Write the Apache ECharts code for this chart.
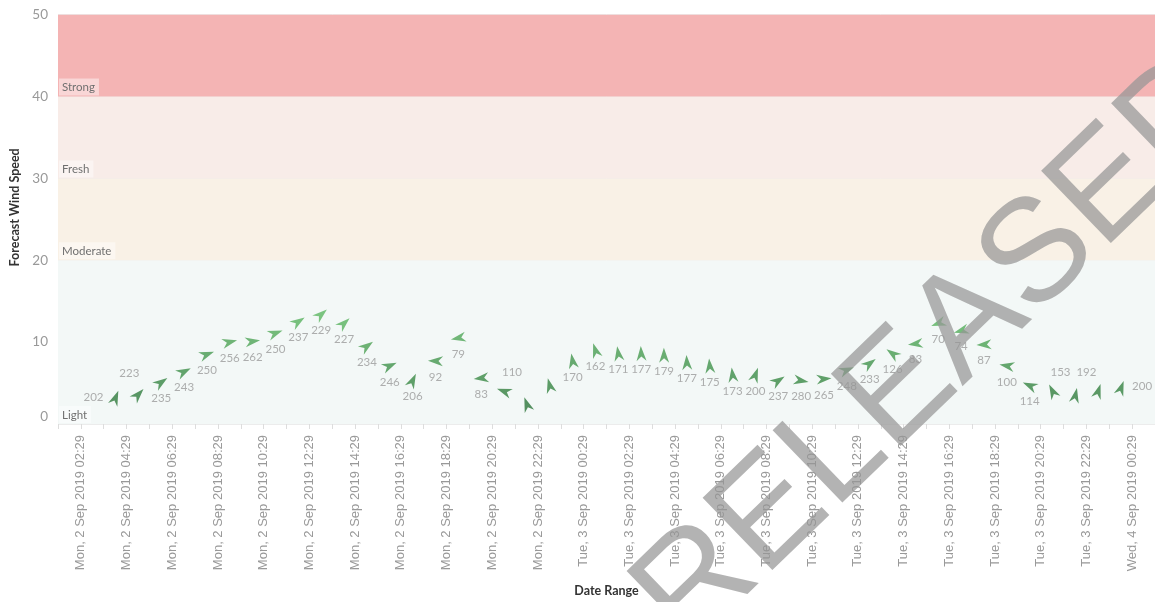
<!DOCTYPE html>
<html>
<head>
<meta charset="utf-8">
<script src="https://cdn.jsdelivr.net/npm/echarts@6/dist/echarts.min.js"></script>
<style>
  html, body { margin: 0; padding: 0; background: #fff; }
  #chart { width: 1155px; height: 602px; }
</style>
</head>
<body>
<div id="chart"></div>
<script>
// ---- data ----
var times = [
  '2019-09-02 04:00','2019-09-02 05:00','2019-09-02 06:00','2019-09-02 07:00','2019-09-02 08:00',
  '2019-09-02 09:00','2019-09-02 10:00','2019-09-02 11:00','2019-09-02 12:00','2019-09-02 13:00',
  '2019-09-02 14:00','2019-09-02 15:00','2019-09-02 16:00','2019-09-02 17:00','2019-09-02 18:00',
  '2019-09-02 19:00','2019-09-02 20:00','2019-09-02 21:00','2019-09-02 22:00','2019-09-02 23:00',
  '2019-09-03 00:00','2019-09-03 01:00','2019-09-03 02:00','2019-09-03 03:00','2019-09-03 04:00',
  '2019-09-03 05:00','2019-09-03 06:00','2019-09-03 07:00','2019-09-03 08:00','2019-09-03 09:00',
  '2019-09-03 10:00','2019-09-03 11:00','2019-09-03 12:00','2019-09-03 13:00','2019-09-03 14:00',
  '2019-09-03 15:00','2019-09-03 16:00','2019-09-03 17:00','2019-09-03 18:00','2019-09-03 19:00',
  '2019-09-03 20:00','2019-09-03 21:00','2019-09-03 22:00','2019-09-03 23:00','2019-09-04 00:00'
];
var windSpeed = [
  3.2, 3.6, 5.1, 6.4, 8.5, 10.0, 10.1, 11.1, 12.5, 13.4,
  12.3, 9.5, 7.1, 5.3, 7.7, 10.5, 5.6, 4.0, 2.4, 4.7,
  7.7, 9.0, 8.6, 8.6, 8.4, 7.5, 7.1, 6.0, 6.0, 5.3,
  5.3, 5.5, 6.6, 7.4, 8.6, 9.8, 12.3, 11.4, 9.7, 7.1,
  4.7, 4.0, 3.5, 4.0, 4.4
];
var windDirection = [
  202, 223, 235, 243, 250, 256, 262, 250, 237, 229,
  227, 234, 246, 206, 92, 79, 83, 110, 160, 165,
  170, 162, 171, 177, 179, 177, 175, 173, 200, 237,
  280, 265, 248, 233, 126, 83, 70, 74, 87, 100,
  114, 153, 192, 198, 200
];
var bandNames = ['Light', 'Moderate', 'Fresh', 'Strong'];
var bandLimits = [0, 20, 30, 40, 50];
var yTicks = [0, 10, 20, 30, 40, 50];

// ---- styling (not data) ----
var bandColors = ['#f3f8f7', '#f9f1e6', '#f8ece8', '#f4b4b4'];
var hiddenLabels = [18, 19, 43];
var labelOffsets = { 0: [-22, -1], 1: [-9, -21], 17: [8, -19], 41: [8, -19], 42: [11, -23], 44: [21, -2] };

// axis base: Mon 2 Sep 2019 02:29
var base = Date.UTC(2019, 8, 2, 2, 29);
function toHours(s) {
  var p = s.split(/[- :]/).map(Number);
  return (Date.UTC(p[0], p[1] - 1, p[2], p[3], p[4]) - base) / 3600000;
}
var dayNames = ['Sun', 'Mon', 'Tue', 'Wed', 'Thu', 'Fri', 'Sat'];
var monNames = ['Jan','Feb','Mar','Apr','May','Jun','Jul','Aug','Sep','Oct','Nov','Dec'];
function pad(n) { return (n < 10 ? '0' : '') + n; }
function fmtHour(v) {
  var d = new Date(base + v * 3600000);
  return dayNames[d.getUTCDay()] + ', ' + d.getUTCDate() + ' ' + monNames[d.getUTCMonth()] + ' ' +
    d.getUTCFullYear() + ' ' + pad(d.getUTCHours()) + ':' + pad(d.getUTCMinutes());
}

var points = times.map(function (t, i) {
  var item = { value: [toHours(t), windSpeed[i], windDirection[i]] };
  if (hiddenLabels.indexOf(i) >= 0) item.label = { show: false };
  else if (labelOffsets[i]) item.label = { offset: labelOffsets[i] };
  return item;
});

var bands = bandNames.map(function (n, i) {
  return [
    { name: n, yAxis: bandLimits[i], itemStyle: { color: bandColors[i] } },
    { yAxis: bandLimits[i + 1] }
  ];
});

var chart = echarts.init(document.getElementById('chart'));
chart.setOption({
  animation: false,
  backgroundColor: '#ffffff',
  grid: { left: 58, right: 0, top: 14.7, bottom: 176, containLabel: false },
  xAxis: {
    type: 'value',
    min: -1, max: 47, interval: 1,
    name: 'Date Range',
    nameLocation: 'middle',
    nameGap: 160,
    nameTextStyle: { color: '#333', fontSize: 12.5, fontWeight: 'bold', fontFamily: 'Lato, sans-serif' },
    splitLine: { show: false },
    axisLine: { show: false },
    axisTick: { show: true, length: 5, lineStyle: { color: '#dddddd' } },
    axisLabel: {
      rotate: 90,
      margin: 11,
      color: '#999',
      fontSize: 13,
      fontFamily: 'Liberation Sans, Arial, sans-serif',
      hideOverlap: false,
      formatter: function (v) { return (Math.round(v) % 2 === 0) ? fmtHour(v) : ''; }
    }
  },
  yAxis: {
    type: 'value',
    min: yTicks[0], max: yTicks[yTicks.length - 1], interval: 10,
    name: 'Forecast Wind Speed',
    nameLocation: 'middle',
    nameGap: 35,
    nameRotate: 90,
    nameTextStyle: { color: '#333', fontSize: 12.5, fontWeight: 'bold', fontFamily: 'Lato, sans-serif', padding: [0, 0, 0, 24] },
    axisLine: { show: false },
    axisTick: { show: false },
    splitLine: { show: true, lineStyle: { color: '#ececec', width: 1 } },
    axisLabel: {
      margin: 10,
      color: '#999',
      fontSize: 13.5,
      fontFamily: 'Lato, sans-serif',
      verticalAlignMinLabel: 'bottom'
    }
  },
  visualMap: {
    show: false,
    type: 'continuous',
    seriesIndex: 0,
    dimension: 1,
    min: 2, max: 13.5,
    inRange: { color: ['#2a7438', '#5cb862'] }
  },
  series: [
    {
      type: 'scatter',
      z: 3,
      data: points,
      symbol: 'path://M5,0 L10,15 L5,10.5 L0,15 Z',
      symbolSize: [10, 15],
      symbolRotate: function (v) { return 180 - v[2]; },
      label: {
        show: true,
        position: 'inside',
        offset: [0, 16],
        color: '#9a9a9a',
        fontSize: 11.5,
        fontFamily: 'Lato, sans-serif',
        formatter: function (p) { return p.value[2]; }
      }
    },
    {
      type: 'line',
      z: -1,
      data: [],
      silent: true,
      markArea: {
        silent: true,
        label: {
          show: true,
          position: 'insideBottomLeft',
          distance: 1,
          formatter: '{b}',
          color: '#707070',
          fontSize: 11.5,
          fontFamily: 'Lato, sans-serif',
          backgroundColor: 'rgba(255,255,255,0.45)',
          padding: [3, 4, 2, 3]
        },
        data: bands
      }
    }
  ],
  graphic: [
    {
      type: 'text',
      z: 100,
      x: 940,
      y: 352,
      rotation: 44 * Math.PI / 180,
      silent: true,
      style: {
        text: 'RELEASED',
        fontSize: 146,
        fontFamily: 'Liberation Sans, Arial, sans-serif',
        fontWeight: 'normal',
        fill: 'rgba(150,150,150,0.72)',
        align: 'center',
        verticalAlign: 'middle'
      }
    }
  ]
});
</script>
</body>
</html>
